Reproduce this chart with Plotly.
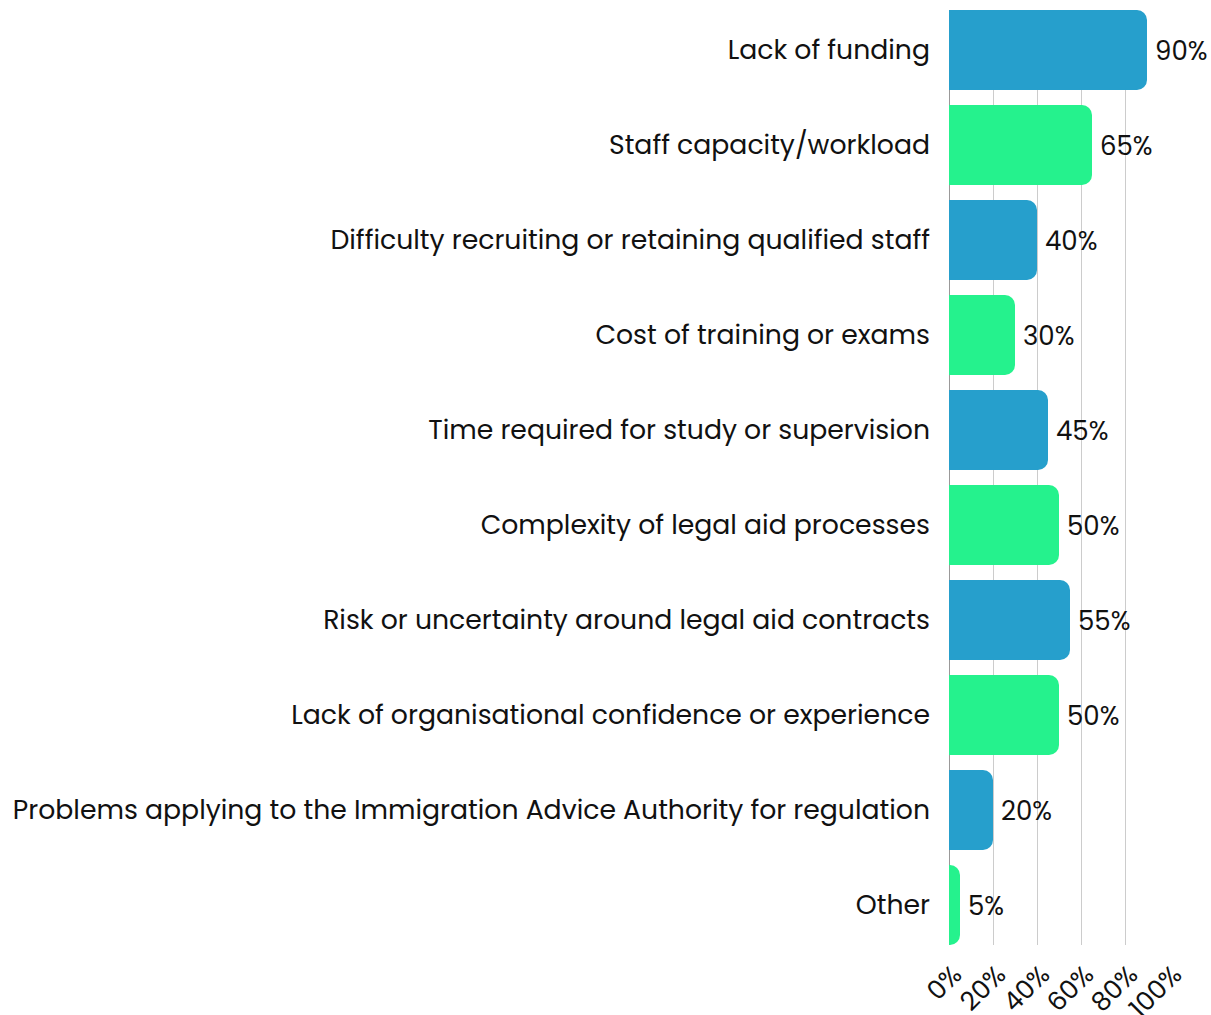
import plotly.graph_objects as go

categories = [
    "Lack of funding",
    "Staff capacity/workload",
    "Difficulty recruiting or retaining qualified staff",
    "Cost of training or exams",
    "Time required for study or supervision",
    "Complexity of legal aid processes",
    "Risk or uncertainty around legal aid contracts",
    "Lack of organisational confidence or experience",
    "Problems applying to the Immigration Advice Authority for regulation",
    "Other",
]
values = [90, 65, 40, 30, 45, 50, 55, 50, 20, 5]
tick_values = [0, 20, 40, 60, 80, 100]
tick_labels = ["0%", "20%", "40%", "60%", "80%", "100%"]

BLUE = "#269FCC"
GREEN = "#25F28D"
colors = [BLUE if i % 2 == 0 else GREEN for i in range(len(categories))]

FONT = "Poppins, Lato, 'Open Sans', sans-serif"

fig = go.Figure(
    go.Bar(
        x=values,
        y=categories,
        orientation="h",
        width=0.842,
        marker=dict(color=colors, cornerradius=10, line=dict(width=0)),
        hoverinfo="skip",
    )
)

# value labels just past the end of each bar
for cat, v in zip(categories, values):
    fig.add_annotation(
        x=v,
        y=cat,
        text=f"{v}%",
        showarrow=False,
        xanchor="left",
        yanchor="middle",
        xshift=6,
        yshift=-1,
        font=dict(family=FONT, size=26, color="#111111"),
    )

n = len(categories)
fig.update_layout(
    width=1211,
    height=1015,
    margin=dict(l=949, r=42, t=10, b=70, autoexpand=False),
    paper_bgcolor="white",
    plot_bgcolor="white",
    showlegend=False,
    font=dict(family=FONT, color="#111111"),
)
fig.update_xaxes(
    range=[0, 100],
    tickvals=tick_values,
    ticktext=tick_labels,
    tickangle=-45,
    tickfont=dict(size=26, family=FONT, color="#111111"),
    ticklabelstandoff=8,
    ticklabelshift=5,
    showgrid=True,
    gridcolor="#cccccc",
    gridwidth=1,
    zeroline=True,
    zerolinecolor="#999999",
    zerolinewidth=1,
    showline=False,
    ticks="",
)
fig.update_yaxes(
    categoryorder="array",
    categoryarray=categories,
    range=[n - 1 + 0.421, -0.421],
    tickfont=dict(size=26.7, family=FONT, color="#111111"),
    ticklabelstandoff=18,
    showgrid=False,
    showline=False,
    ticks="",
)

fig.write_html("out.html")
